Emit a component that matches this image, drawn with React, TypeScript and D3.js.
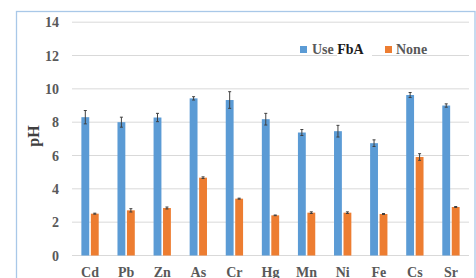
import React, { useEffect, useRef } from 'react';
import * as d3 from 'd3';

const categories = ['Cd', 'Pb', 'Zn', 'As', 'Cr', 'Hg', 'Mn', 'Ni', 'Fe', 'Cs', 'Sr'];
const series = ['Use FbA', 'None'];
const useFbA = [8.3, 8.0, 8.28, 9.43, 9.33, 8.18, 7.38, 7.46, 6.74, 9.63, 9.0];
const useFbAErr = [0.4, 0.3, 0.25, 0.1, 0.5, 0.35, 0.18, 0.35, 0.2, 0.15, 0.1];
const none = [2.51, 2.71, 2.85, 4.67, 3.41, 2.41, 2.57, 2.57, 2.49, 5.91, 2.91];
const noneErr = [0.03, 0.1, 0.06, 0.05, 0.03, 0.02, 0.05, 0.05, 0.03, 0.2, 0.03];
const yTicks = [0, 2, 4, 6, 8, 10, 12, 14];
const colors = ['#5b9bd5', '#ed7d31'];
const FONT = "'Liberation Serif', 'Times New Roman', serif";

const App = () => {
    const ref = useRef<SVGSVGElement>(null);

    useEffect(() => {
        const svg = d3.select(ref.current);
        svg.selectAll('*').remove();

        const width = 476;
        const left = 72, right = 469;
        const y = d3.scaleLinear().domain([0, 14]).range([255.5, 22.2]);
        const x0 = d3.scaleBand().domain(categories).range([left, right]).paddingInner(0.52).paddingOuter(0.26);
        const x1 = d3.scaleBand().domain(series).range([0, x0.bandwidth()]).paddingInner(0.17);

        // chart border
        svg.append('rect')
            .attr('x', 16.5).attr('y', 11.5)
            .attr('width', width - 17.5).attr('height', 300)
            .attr('fill', '#fff')
            .attr('stroke', '#a9c8e8')
            .attr('stroke-width', 1.3);

        // gridlines
        svg.append('g').selectAll('line')
            .data(yTicks)
            .enter().append('line')
            .attr('x1', left).attr('x2', right)
            .attr('y1', d => y(d)).attr('y2', d => y(d))
            .attr('stroke', '#d9d9d9')
            .attr('stroke-width', 1);

        // y tick labels
        svg.append('g').selectAll('text')
            .data(yTicks)
            .enter().append('text')
            .attr('x', 59).attr('y', d => y(d) + 5)
            .attr('text-anchor', 'end')
            .style('font-family', FONT)
            .style('font-weight', 'bold')
            .style('font-size', '14px')
            .attr('fill', '#595959')
            .text(d => d);

        // y axis title
        svg.append('text')
            .attr('transform', 'translate(39,136) rotate(-90)')
            .attr('text-anchor', 'middle')
            .style('font-family', FONT)
            .style('font-weight', 'bold')
            .style('font-size', '16px')
            .attr('fill', '#404040')
            .text('pH');

        // bars and error bars
        const vals = [useFbA, none];
        const errs = [useFbAErr, noneErr];
        series.forEach((s, si) => {
            const g = svg.append('g');
            g.selectAll('rect')
                .data(categories)
                .enter().append('rect')
                .attr('x', c => x0(c)! + x1(s)!)
                .attr('width', x1.bandwidth())
                .attr('y', (c, i) => y(vals[si][i]))
                .attr('height', (c, i) => y(0) - y(vals[si][i]))
                .attr('fill', colors[si]);

            const eg = g.selectAll('g.err')
                .data(categories)
                .enter().append('g')
                .attr('stroke', '#404040')
                .attr('stroke-width', 1);
            const cx = (c: string) => x0(c)! + x1(s)! + x1.bandwidth() / 2;
            eg.append('line')
                .attr('x1', c => cx(c)).attr('x2', c => cx(c))
                .attr('y1', (c, i) => y(vals[si][i] + errs[si][i]))
                .attr('y2', (c, i) => y(vals[si][i] - errs[si][i]));
            [1, -1].forEach(sign => {
                eg.append('line')
                    .attr('x1', c => cx(c) - 1.5).attr('x2', c => cx(c) + 1.5)
                    .attr('y1', (c, i) => y(vals[si][i] + sign * errs[si][i]))
                    .attr('y2', (c, i) => y(vals[si][i] + sign * errs[si][i]));
            });
        });

        // category labels (bottom is clipped by the frame, as in the original)
        svg.append('g').selectAll('text')
            .data(categories)
            .enter().append('text')
            .attr('x', c => x0(c)! + x0.bandwidth() / 2)
            .attr('y', 277)
            .attr('text-anchor', 'middle')
            .style('font-family', FONT)
            .style('font-weight', 'bold')
            .style('font-size', '14px')
            .attr('fill', '#595959')
            .text(c => c);

        // legend (covers part of the 12 gridline like the original)
        svg.append('rect')
            .attr('x', 337).attr('y', 53.5).attr('width', 35).attr('height', 3)
            .attr('fill', '#fff');
        const legendX = [300, 385];
        series.forEach((s, si) => {
            svg.append('rect')
                .attr('x', legendX[si]).attr('y', 46)
                .attr('width', 7).attr('height', 7)
                .attr('fill', colors[si]);
        });
        const t1 = svg.append('text')
            .attr('x', 312).attr('y', 53.5)
            .style('font-family', FONT)
            .style('font-weight', 'bold')
            .style('font-size', '14px');
        t1.append('tspan').attr('fill', '#595959').text('Use ');
        t1.append('tspan').attr('fill', '#1a1a1a').text('FbA');
        svg.append('text')
            .attr('x', 396).attr('y', 53.5)
            .style('font-family', FONT)
            .style('font-weight', 'bold')
            .style('font-size', '14px')
            .attr('fill', '#595959')
            .text('None');
    }, []);

    return (
        <div style={{ position: 'absolute', left: 0, top: 0 }}>
            <svg ref={ref} width={476} height={278} style={{ display: 'block' }} />
        </div>
    );
};

export default App;
